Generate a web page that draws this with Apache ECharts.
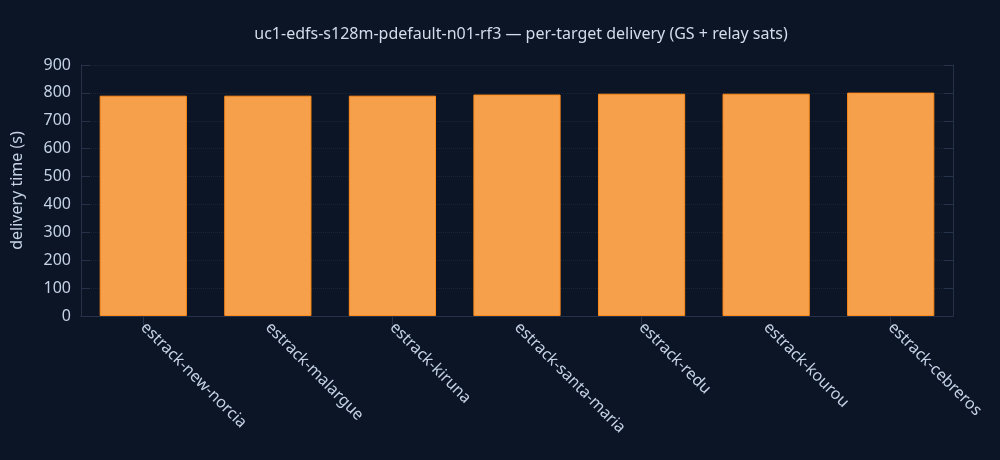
<!DOCTYPE html>
<html>
<head>
<meta charset="utf-8">
<script src="https://cdn.jsdelivr.net/npm/echarts@6/dist/echarts.min.js"></script>
<style>
  html, body { margin: 0; padding: 0; background: #0b1526; }
  #chart { width: 1000px; height: 460px; }
</style>
</head>
<body>
<div id="chart"></div>
<script>
const targets = [
  "estrack-new-norcia",
  "estrack-malargue",
  "estrack-kiruna",
  "estrack-santa-maria",
  "estrack-redu",
  "estrack-kourou",
  "estrack-cebreros",
]
const deliveryTime = [790, 790, 790, 794, 797, 797, 801]

const textColor = "#c5d2e6"
const lineColor = "#26324a"

const chart = echarts.init(document.getElementById("chart"))

const option = {
  backgroundColor: "#0b1526",
  textStyle: { fontFamily: "Noto Sans", color: textColor },
  title: {
    text: "uc1-edfs-s128m-pdefault-n01-rf3 — per-target delivery (GS + relay sats)",
    left: 516,
    top: 21,
    textAlign: "center",
    textStyle: { color: "#d3dcea", fontSize: 16, fontWeight: "normal", fontFamily: "Noto Sans" },
  },
  grid: { left: 81, right: 47, top: 65, bottom: 144 },
  xAxis: [
    {
      type: "category",
      data: targets,
      axisLine: { lineStyle: { color: lineColor } },
      axisTick: { show: false },
      axisLabel: {
        color: textColor,
        fontSize: 16,
        rotate: -45,
        interval: 0,
        margin: 9,
      },
    },
    {
      type: "category",
      data: targets,
      position: "top",
      axisLine: { show: true, lineStyle: { color: lineColor } },
      axisTick: { show: true, inside: true, alignWithLabel: true, length: 9, lineStyle: { color: lineColor } },
      axisLabel: { show: false },
    },
  ],
  yAxis: [
    {
      type: "value",
      min: 0,
      max: 900,
      interval: 100,
      name: "delivery time (s)",
      nameLocation: "middle",
      nameGap: 56,
      nameTextStyle: { color: textColor, fontSize: 16 },
      axisLine: { show: true, lineStyle: { color: lineColor } },
      axisTick: { show: true, inside: true, length: 9, lineStyle: { color: lineColor } },
      axisLabel: { color: textColor, fontSize: 16, margin: 10 },
      splitLine: { show: true, lineStyle: { color: "#1a2438", type: "dotted" } },
    },
    {
      type: "value",
      min: 0,
      max: 900,
      interval: 100,
      position: "right",
      axisLine: { show: true, lineStyle: { color: lineColor } },
      axisTick: { show: true, inside: true, length: 9, lineStyle: { color: lineColor } },
      axisLabel: { show: false },
      splitLine: { show: false },
    },
  ],
  series: [
    {
      type: "bar",
      data: deliveryTime,
      barCategoryGap: "30%",
      itemStyle: { color: "#f7a04b", borderColor: "#ff8c1a", borderWidth: 1 },
      z: 3,
    },
  ],
}

chart.setOption(option)
</script>
</body>
</html>
